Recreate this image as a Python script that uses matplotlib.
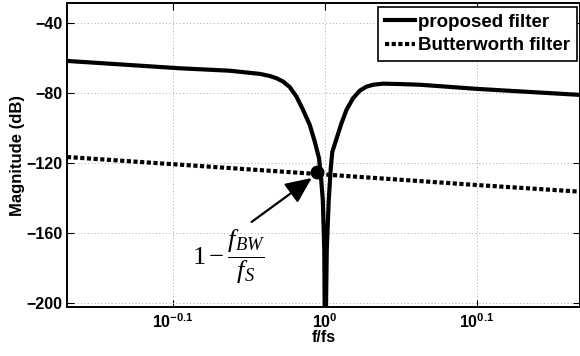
import numpy as np
import matplotlib
matplotlib.use("Agg")
import matplotlib.pyplot as plt
from matplotlib.ticker import FixedLocator, NullLocator

plt.rcParams['font.family'] = ['Liberation Sans', 'DejaVu Sans']
plt.rcParams['mathtext.fontset'] = 'custom'
plt.rcParams['mathtext.rm'] = 'Liberation Serif'
plt.rcParams['mathtext.it'] = 'Liberation Serif:italic'
plt.rcParams['mathtext.bf'] = 'Liberation Sans:bold'

# proposed filter response (f/fs, dB)
prop_f = [0.6765, 0.8027, 0.8660, 0.9062, 0.9200, 0.9295, 0.9388, 0.9484,
          0.9580, 0.9676, 0.9775, 0.9849, 0.9913, 0.9940, 0.9970, 0.9992,
          1.0005, 1.0030, 1.0060, 1.0091, 1.0114, 1.0256, 1.0334, 1.0438,
          1.0544, 1.0652, 1.0760, 1.0924, 1.1201, 1.1548, 1.2609, 1.4719]
prop_db = [-61.7, -65.9, -67.3, -69.1, -70.3, -71.6, -73.5, -76.7,
           -82.1, -89.7, -98.3, -107.8, -117.3, -126.9, -141.1, -169.7,
           -240.0, -169.7, -141.1, -122.9, -113.7, -97.3, -89.7, -83.0,
           -78.7, -76.4, -75.3, -74.7, -74.9, -75.3, -77.7, -81.1]

# butterworth response
bw_f = [0.6765, 0.7943, 1.0, 1.2589, 1.4719]
bw_db = [-116.6, -120.7, -126.6, -132.6, -136.4]

# marked point 1 - fBW/fs
mark_f = 0.9886
mark_db = -125.0

xticks = [10 ** -0.1, 1.0, 10 ** 0.1]
xticklabels = [r'$\mathbf{10^{-0.1}}$', r'$\mathbf{10^{0}}$', r'$\mathbf{10^{0.1}}$']
yticks = [-200, -160, -120, -80, -40]

fig = plt.figure(figsize=(5.8, 3.56), dpi=100)
ax = fig.add_axes([67 / 580, 1 - 307 / 356, 513 / 580, 304 / 356])

ax.plot(prop_f, prop_db, color='black', lw=3, label='proposed filter',
        solid_joinstyle='round')
ax.plot(bw_f, bw_db, color='black', lw=3, dashes=(1.0, 0.6),
        label='Butterworth filter')
ax.plot([mark_f], [mark_db], 'o', color='black', markersize=9)

ax.set_xscale('log')
ax.set_xlim(10 ** -0.1697, 10 ** 0.168)
ax.set_ylim(-202.3, -28.6)

ax.xaxis.set_major_locator(FixedLocator(xticks))
ax.xaxis.set_minor_locator(NullLocator())
ax.set_xticklabels(xticklabels, fontsize=11.5)
ax.set_yticks(yticks)
for lab in ax.get_yticklabels():
    lab.set_fontweight('bold')
    lab.set_fontsize(11.5)

ax.tick_params(which='both', direction='in', top=True, right=True,
               length=5, width=0.8)
ax.tick_params(axis='x', pad=4)
ax.tick_params(axis='y', pad=3)
ax.grid(True, linestyle=(0, (1, 2.5)), color='#aaaaaa', lw=0.7)
for s in ax.spines.values():
    s.set_linewidth(1.4)

ax.set_xlabel('f/fs', fontweight='bold', fontsize=11.5, labelpad=-1)
ax.set_ylabel('Magnitude (dB)', fontweight='bold', fontsize=12, labelpad=1)

leg = ax.legend(loc='upper right', bbox_to_anchor=(0.994, 0.987),
                borderaxespad=0, fancybox=False, framealpha=1,
                edgecolor='black', handlelength=1.6, handletextpad=0.2,
                labelspacing=0.35, borderpad=0.35,
                prop={'weight': 'bold', 'size': 13.5})
leg.get_frame().set_linewidth(1.2)

ax.annotate('', xy=(0.9804, -128.6), xytext=(0.895, -153.7),
            arrowprops=dict(arrowstyle='-|>,head_length=0.8,head_width=0.36',
                            color='black', lw=1.6, mutation_scale=20,
                            shrinkA=0, shrinkB=0))
ax.text(0.8647, -173.7, r'$1-\dfrac{f_{BW}}{f_S}$', fontsize=19,
        ha='center', va='center')

fig.savefig('out.png', dpi=100)
